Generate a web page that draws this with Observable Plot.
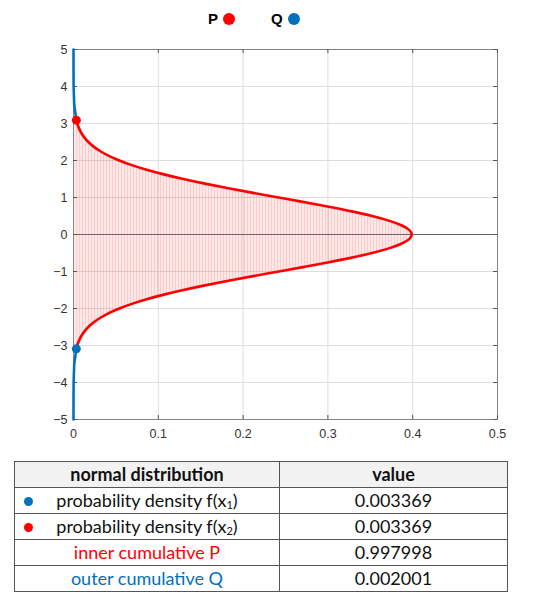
<!DOCTYPE html>
<html>
<head>
<meta charset="utf-8">
<script src="https://cdn.jsdelivr.net/npm/d3@7"></script>
<script src="https://cdn.jsdelivr.net/npm/@observablehq/plot@0.6"></script>
<style>
  html, body { margin: 0; padding: 0; background: #fff; width: 554px; height: 604px; overflow: hidden; }
  #wrap { position: relative; width: 554px; height: 604px; }
  #legend { position: absolute; left: 0; top: 8px; width: 554px; height: 24px; font-family: "Liberation Sans", Arial, sans-serif; font-weight: bold; font-size: 15px; color: #000; }
  .lg { position: absolute; top: 2px; display: flex; align-items: center; }
  .lg .dot { display: inline-block; width: 12px; height: 12px; border-radius: 50%; margin-left: 5px; }
  #chart { position: absolute; left: 0; top: 40px; }
  #chart svg { overflow: visible; }
  #chart svg text { font-size: 12.5px !important; font-family: "Liberation Sans", Arial, sans-serif; }
  table { position: absolute; left: 14px; top: 461px; width: 494px; border-collapse: collapse; font-family: Lato, "Open Sans", sans-serif; font-size: 18px; color: #111; }
  td, th { border: 1px solid #555; height: 25px; padding: 0; text-align: center; line-height: 25px; }
  th { background: #f2f2f2; font-weight: bold; }
  td.c1 { position: relative; width: 265px; }
  td.c2 { width: 228px; }
  .rdot { position: absolute; left: 9px; top: 9px; width: 9px; height: 9px; border-radius: 50%; }
  sub { font-size: 11px; vertical-align: -2px; line-height: 0; }
</style>
</head>
<body>
<div id="wrap">
  <div id="legend"></div>
  <div id="chart"></div>
  <div id="tbl"></div>
</div>
<script>
// ---- data ----
const zInner = [-3.09,-3,-2.875,-2.75,-2.625,-2.5,-2.375,-2.25,-2.125,-2,-1.875,-1.75,-1.625,-1.5,-1.375,-1.25,-1.125,-1,-0.875,-0.75,-0.625,-0.5,-0.375,-0.25,-0.125,0,
                0.125,0.25,0.375,0.5,0.625,0.75,0.875,1,1.125,1.25,1.375,1.5,1.625,1.75,1.875,2,2.125,2.25,2.375,2.5,2.625,2.75,2.875,3,3.09];
const dInner = [0.00337,0.00443,0.0064,0.00909,0.01273,0.01753,0.02377,0.03174,0.04172,0.05399,0.06879,0.08628,0.10654,0.12952,0.15502,0.18265,0.21188,0.24197,0.27205,0.30114,0.32816,0.35207,0.37186,0.38667,0.39584,0.39894,
                0.39584,0.38667,0.37186,0.35207,0.32816,0.30114,0.27205,0.24197,0.21188,0.18265,0.15502,0.12952,0.10654,0.08628,0.06879,0.05399,0.04172,0.03174,0.02377,0.01753,0.01273,0.00909,0.0064,0.00443,0.00337];
const zUpper = [3.09, 3.5, 4, 4.5, 5];
const dUpper = [0.00337, 0.00087, 0.00013, 0.00002, 0];
const zLower = [-5, -4.5, -4, -3.5, -3.09];
const dLower = [0, 0.00002, 0.00013, 0.00087, 0.00337];
const pointZ = [3.09, -3.09];
const pointD = [0.003369, 0.003369];
const pointColor = ["#ff0000", "#0072bd"];
const xTicks = [0, 0.1, 0.2, 0.3, 0.4, 0.5];
const yTicks = [-5, -4, -3, -2, -1, 0, 1, 2, 3, 4, 5];
const legendLabels = ["P", "Q"];
const legendColors = ["#ff0000", "#0072bd"];
const tableHeader = ["normal distribution", "value"];
const rowLabels = ["probability density f(x<sub>1</sub>)", "probability density f(x<sub>2</sub>)", "inner cumulative P", "outer cumulative Q"];
const rowValues = ["0.003369", "0.003369", "0.997998", "0.002001"];
const rowDots = ["#0072bd", "#ff0000", null, null];
const rowTextColors = ["#111", "#111", "#ff0000", "#0070c0"];

const inner = zInner.map((z, i) => ({z, d: dInner[i]}));
const upper = zUpper.map((z, i) => ({z, d: dUpper[i]}));
const lower = zLower.map((z, i) => ({z, d: dLower[i]}));
const pts = pointZ.map((z, i) => ({z, d: pointD[i], c: pointColor[i]}));

const W = 554, H = 400, mT = 9, mB = 21, mL = 73, mR = 57;
const innerH = H - mT - mB, innerW = W - mL - mR;

const chart = Plot.plot({
  width: W, height: H,
  marginTop: mT, marginBottom: mB, marginLeft: mL, marginRight: mR,
  x: {domain: [0, 0.5], label: null},
  y: {domain: [-5, 5], label: null},
  style: {fontFamily: "'Liberation Sans', Arial, sans-serif", fontSize: "12px", color: "#333", background: "#fff"},
  marks: [
    Plot.gridX(xTicks, {stroke: "#dedede", strokeOpacity: 1}),
    Plot.gridY(yTicks, {stroke: "#dedede", strokeOpacity: 1}),
    Plot.areaX(inner, {x: "d", y: "z", curve: "monotone-y", fill: "url(#stripes)"}),
    Plot.ruleY([0], {stroke: "#666", strokeWidth: 1}),
    Plot.frame({stroke: "#858585"}),
    Plot.tickX(xTicks, {x: d => d, stroke: "#555", insetTop: innerH - 4}),
    Plot.tickX(xTicks, {x: d => d, stroke: "#555", insetBottom: innerH - 4}),
    Plot.tickY(yTicks, {y: d => d, stroke: "#555", insetRight: innerW - 4}),
    Plot.tickY(yTicks, {y: d => d, stroke: "#555", insetLeft: innerW - 4}),
    Plot.axisX(xTicks, {tickSize: 0, tickPadding: 10, label: null, tickFormat: d => d === 0 ? "0" : String(d), fill: "#333"}),
    Plot.axisY(yTicks, {tickSize: 0, tickPadding: 6, label: null, fill: "#333"}),
    Plot.line(upper, {x: "d", y: "z", stroke: "#0072bd", strokeWidth: 2.6}),
    Plot.line(lower, {x: "d", y: "z", stroke: "#0072bd", strokeWidth: 2.6}),
    Plot.line(inner, {x: "d", y: "z", curve: "monotone-y", stroke: "#ff0000", strokeWidth: 2.6}),
    Plot.dot(pts, {x: "d", y: "z", fill: "c", r: 4.5})
  ]
});

// stripe pattern for the filled area
const defs = document.createElementNS("http://www.w3.org/2000/svg", "defs");
defs.innerHTML = `<pattern id="stripes" patternUnits="userSpaceOnUse" width="3" height="10">
  <rect width="3" height="10" fill="#ff0000" fill-opacity="0.09"></rect>
  <rect x="1" width="1" height="10" fill="#ff0000" fill-opacity="0.13"></rect>
</pattern>`;
chart.insertBefore(defs, chart.firstChild);
document.getElementById("chart").appendChild(chart);

// legend
const legend = document.getElementById("legend");
const legendX = [208, 271];
legendLabels.forEach((lab, i) => {
  const el = document.createElement("div");
  el.className = "lg";
  el.style.left = legendX[i] + "px";
  el.innerHTML = `<span>${lab}</span><span class="dot" style="background:${legendColors[i]}"></span>`;
  legend.appendChild(el);
});

// table
let html = `<table><tr><th>${tableHeader[0]}</th><th>${tableHeader[1]}</th></tr>`;
rowLabels.forEach((lab, i) => {
  const dot = rowDots[i] ? `<span class="rdot" style="background:${rowDots[i]}"></span>` : "";
  html += `<tr><td class="c1" style="color:${rowTextColors[i]}">${dot}${lab}</td><td class="c2">${rowValues[i]}</td></tr>`;
});
html += `</table>`;
document.getElementById("tbl").innerHTML = html;
</script>
</body>
</html>
